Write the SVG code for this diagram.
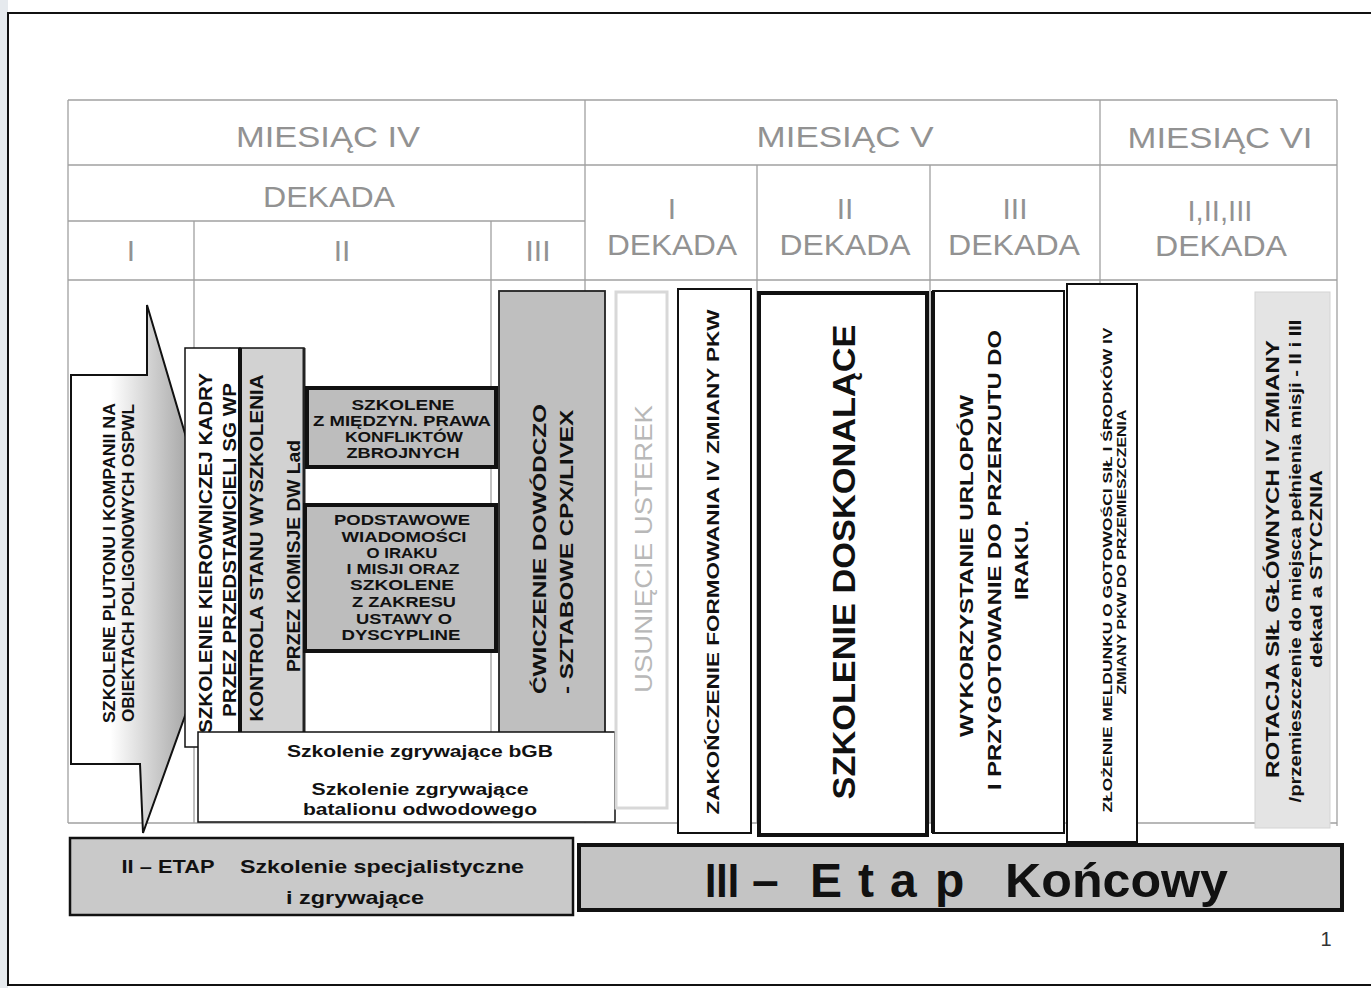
<svg xmlns="http://www.w3.org/2000/svg" width="1371" height="988" viewBox="0 0 1371 988">
<defs>
<linearGradient id="arrowGrad" x1="70" y1="0" x2="186" y2="0" gradientUnits="userSpaceOnUse">
<stop offset="0" stop-color="#ffffff"/>
<stop offset="0.35" stop-color="#ffffff"/>
<stop offset="1" stop-color="#a9a9a9"/>
</linearGradient>
</defs>
<style>
text{font-family:"Liberation Sans",Arial,sans-serif;}
.hdr{font-size:30px;fill:#929292;text-anchor:middle;}
.tl{stroke:#a0a0a0;stroke-width:1.3;fill:none;}
.v{font-weight:bold;fill:#111;text-anchor:middle;}
.h{font-weight:bold;fill:#111;text-anchor:middle;}
.wbox{fill:#ffffff;stroke:#111;}
</style>
<rect x="0" y="0" width="1371" height="988" fill="#ffffff"/>
<rect x="0" y="0" width="8" height="988" fill="#e6eaee"/>
<rect x="8" y="13" width="1380" height="972" fill="none" stroke="#111" stroke-width="2"/>

<g id="table">
<line class="tl" x1="68" y1="100" x2="1337" y2="100"/>
<line class="tl" x1="68" y1="165" x2="1337" y2="165"/>
<line class="tl" x1="68" y1="221" x2="585" y2="221"/>
<line class="tl" x1="68" y1="280" x2="1337" y2="280"/>
<line class="tl" x1="68" y1="823" x2="1337" y2="823"/>
<line class="tl" x1="68" y1="100" x2="68" y2="823"/>
<line class="tl" x1="585" y1="100" x2="585" y2="823"/>
<line class="tl" x1="1100" y1="100" x2="1100" y2="823"/>
<line class="tl" x1="1337" y1="100" x2="1337" y2="826"/>
<line class="tl" x1="194" y1="221" x2="194" y2="823"/>
<line class="tl" x1="491" y1="221" x2="491" y2="823"/>
<line class="tl" x1="757" y1="165" x2="757" y2="823"/>
<line class="tl" x1="930" y1="165" x2="930" y2="823"/>
<text class="hdr" x="328" y="147" textLength="184" lengthAdjust="spacingAndGlyphs">MIESIĄC IV</text>
<text class="hdr" x="845" y="147" textLength="177" lengthAdjust="spacingAndGlyphs">MIESIĄC V</text>
<text class="hdr" x="1220" y="148" textLength="185" lengthAdjust="spacingAndGlyphs">MIESIĄC VI</text>
<text class="hdr" x="329" y="207" textLength="132" lengthAdjust="spacingAndGlyphs">DEKADA</text>
<text class="hdr" x="131" y="261">I</text>
<text class="hdr" x="342" y="261">II</text>
<text class="hdr" x="538" y="261">III</text>
<text class="hdr" x="672" y="219">I</text>
<text class="hdr" x="672" y="255" textLength="130" lengthAdjust="spacingAndGlyphs">DEKADA</text>
<text class="hdr" x="845" y="219">II</text>
<text class="hdr" x="845" y="255" textLength="131" lengthAdjust="spacingAndGlyphs">DEKADA</text>
<text class="hdr" x="1015" y="219">III</text>
<text class="hdr" x="1014" y="255" textLength="132" lengthAdjust="spacingAndGlyphs">DEKADA</text>
<text class="hdr" x="1220" y="221" textLength="65" lengthAdjust="spacingAndGlyphs">I,II,III</text>
<text class="hdr" x="1221" y="256" textLength="132" lengthAdjust="spacingAndGlyphs">DEKADA</text>
</g>

<g id="connectors"></g>

<g id="arrow-szkolenie-plutonu">
<polygon points="71,375 147,375 147,305 186,437 186,713 143,833 140,764 71,764" fill="url(#arrowGrad)" stroke="#111" stroke-width="2"/>
<text class="v" font-size="16" transform="translate(115,563) rotate(-90)" textLength="320" lengthAdjust="spacingAndGlyphs">SZKOLENE PLUTONU I KOMPANII NA</text>
<text class="v" font-size="16" transform="translate(134,563) rotate(-90)" textLength="318" lengthAdjust="spacingAndGlyphs">OBIEKTACH POLIGONOWYCH OSPWL</text>
</g>

<g id="box-kierowniczej-kadry">
<rect class="wbox" x="185" y="348" width="55" height="399" stroke-width="1.5"/>
<text class="v" font-size="18" transform="translate(212,553) rotate(-90)" textLength="360" lengthAdjust="spacingAndGlyphs">SZKOLENIE KIEROWNICZEJ KADRY</text>
<text class="v" font-size="18" transform="translate(236,550) rotate(-90)" textLength="334" lengthAdjust="spacingAndGlyphs">PRZEZ PRZEDSTAWICIELI SG WP</text>
</g>

<g id="box-kontrola">
<rect x="240" y="348" width="64" height="390" fill="#d2d2d2" stroke="#111" stroke-width="1.5"/>
<line x1="240" y1="348" x2="240" y2="738" stroke="#111" stroke-width="4"/>
<line x1="304" y1="348" x2="304" y2="738" stroke="#222" stroke-width="3"/>
<text class="v" font-size="18" transform="translate(263,548) rotate(-90)" textLength="347" lengthAdjust="spacingAndGlyphs">KONTROLA STANU WYSZKOLENIA</text>
<text class="v" font-size="18" transform="translate(300,556) rotate(-90)" textLength="232" lengthAdjust="spacingAndGlyphs">PRZEZ KOMISJE DW Lad</text>
</g>

<g id="box-prawa-konfliktow">
<rect x="307" y="388" width="189" height="79" fill="#bdbdbd" stroke="#111" stroke-width="4"/>
<text class="h" font-size="15" x="403" y="410" textLength="103" lengthAdjust="spacingAndGlyphs">SZKOLENE</text>
<text class="h" font-size="15" x="402" y="426" textLength="178" lengthAdjust="spacingAndGlyphs">Z MIĘDZYN. PRAWA</text>
<text class="h" font-size="15" x="404" y="442" textLength="118" lengthAdjust="spacingAndGlyphs">KONFLIKTÓW</text>
<text class="h" font-size="15" x="403" y="458" textLength="113" lengthAdjust="spacingAndGlyphs" font-weight="normal">ZBROJNYCH</text>
</g>

<g id="box-wiadomosci-irak">
<rect x="305" y="505" width="191" height="146" fill="#bdbdbd" stroke="#111" stroke-width="4"/>
<text class="h" font-size="15" x="402" y="525" textLength="136" lengthAdjust="spacingAndGlyphs">PODSTAWOWE</text>
<text class="h" font-size="15" x="404" y="542" textLength="125" lengthAdjust="spacingAndGlyphs">WIADOMOŚCI</text>
<text class="h" font-size="15" x="402" y="558" textLength="71" lengthAdjust="spacingAndGlyphs">O IRAKU</text>
<text class="h" font-size="15" x="403" y="574" textLength="113" lengthAdjust="spacingAndGlyphs">I MISJI ORAZ</text>
<text class="h" font-size="15" x="402" y="590" textLength="104" lengthAdjust="spacingAndGlyphs" font-weight="normal">SZKOLENE</text>
<text class="h" font-size="15" x="404" y="607" textLength="104" lengthAdjust="spacingAndGlyphs" font-weight="normal">Z ZAKRESU</text>
<text class="h" font-size="15" x="404" y="624" textLength="96" lengthAdjust="spacingAndGlyphs" font-weight="normal">USTAWY O</text>
<text class="h" font-size="15" x="401" y="640" textLength="119" lengthAdjust="spacingAndGlyphs">DYSCYPLINE</text>
</g>

<g id="box-cwiczenie-cpx">
<rect x="499" y="291" width="106" height="444" fill="#bfbfbf" stroke="#222" stroke-width="1.8"/>
<text class="v" font-size="19" fill="#222" transform="translate(546,549) rotate(-90)" textLength="290" lengthAdjust="spacingAndGlyphs">ĆWICZENIE DOWÓDCZO</text>
<text class="v" font-size="19" fill="#222" transform="translate(573,552) rotate(-90)" textLength="284" lengthAdjust="spacingAndGlyphs">- SZTABOWE CPX/LIVEX</text>
</g>

<g id="box-szkolenie-zgrywajace">
<rect class="wbox" x="198" y="732" width="417" height="90" stroke-width="1.5"/>
<text class="h" font-size="17" x="420" y="757" textLength="266" lengthAdjust="spacingAndGlyphs">Szkolenie zgrywające bGB</text>
<text class="h" font-size="17" x="420" y="795" textLength="217" lengthAdjust="spacingAndGlyphs">Szkolenie zgrywające</text>
<text class="h" font-size="17" x="420" y="815" textLength="234" lengthAdjust="spacingAndGlyphs">batalionu odwodowego</text>
</g>

<g id="box-usuniecie-usterek">
<rect x="616" y="292" width="51" height="516" fill="#ffffff" stroke="#d8d8d8" stroke-width="3"/>
<text font-size="24" fill="#b8b8b8" text-anchor="middle" transform="translate(652,549) rotate(-90)" textLength="288" lengthAdjust="spacingAndGlyphs">USUNIĘCIE USTEREK</text>
</g>

<g id="box-zakonczenie-formowania">
<rect class="wbox" x="678" y="289" width="73" height="544" stroke-width="2"/>
<text class="v" font-size="17" transform="translate(719,562) rotate(-90)" textLength="505" lengthAdjust="spacingAndGlyphs">ZAKOŃCZENIE FORMOWANIA IV ZMIANY PKW</text>
</g>

<g id="box-szkolenie-doskonalace">
<rect class="wbox" x="759" y="293" width="168" height="542" stroke-width="4"/>
<text class="v" font-size="32" transform="translate(855,562) rotate(-90)" textLength="475" lengthAdjust="spacingAndGlyphs">SZKOLENIE DOSKONALĄCE</text>
</g>

<g id="box-wykorzystanie-urlopow">
<rect class="wbox" x="933" y="291" width="131" height="542" stroke-width="2"/>
<line x1="933" y1="291" x2="933" y2="833" stroke="#111" stroke-width="4"/>
<text class="v" font-size="18" transform="translate(973,566) rotate(-90)" textLength="342" lengthAdjust="spacingAndGlyphs">WYKORZYSTANIE URLOPÓW</text>
<text class="v" font-size="18" transform="translate(1001,560) rotate(-90)" textLength="460" lengthAdjust="spacingAndGlyphs">I PRZYGOTOWANIE DO PRZERZUTU DO</text>
<text class="v" font-size="18" transform="translate(1028,560) rotate(-90)" textLength="80" lengthAdjust="spacingAndGlyphs">IRAKU.</text>
</g>

<g id="box-zlozenie-meldunku">
<rect class="wbox" x="1067" y="284" width="70" height="558" stroke-width="2"/>
<text class="v" font-size="13" font-weight="normal" transform="translate(1112,570) rotate(-90)" textLength="485" lengthAdjust="spacingAndGlyphs">ZŁOŻENIE MELDUNKU O GOTOWOŚCI SIŁ I ŚRODKÓW IV</text>
<text class="v" font-size="13" font-weight="normal" transform="translate(1126,552) rotate(-90)" textLength="285" lengthAdjust="spacingAndGlyphs">ZMIANY PKW DO PRZEMIESZCZENIA</text>
</g>

<g id="box-rotacja">
<rect x="1255" y="292" width="75" height="536" fill="#e4e4e4" stroke="#d4d4d4" stroke-width="1"/>
<text class="v" font-size="19" transform="translate(1279,559) rotate(-90)" textLength="438" lengthAdjust="spacingAndGlyphs">ROTACJA SIŁ  GŁÓWNYCH IV ZMIANY</text>
<text class="v" font-size="16" font-weight="normal" transform="translate(1301,561) rotate(-90)" textLength="483" lengthAdjust="spacingAndGlyphs">/przemieszczenie do miejsca pełnienia misji - <tspan font-weight="bold">II i III</tspan></text>
<text class="v" font-size="16" font-weight="normal" transform="translate(1322,569) rotate(-90)" textLength="198" lengthAdjust="spacingAndGlyphs">dekad a STYCZNIA</text>
</g>

<g id="box-etap-II">
<rect x="70" y="838" width="503" height="77" fill="#c9c9c9" stroke="#111" stroke-width="2.5"/>
<text class="h" font-size="19" x="168" y="873" textLength="93" lengthAdjust="spacingAndGlyphs">II – ETAP</text>
<text class="h" font-size="19" x="382" y="873" textLength="284" lengthAdjust="spacingAndGlyphs">Szkolenie specjalistyczne</text>
<text class="h" font-size="19" x="355" y="904" textLength="138" lengthAdjust="spacingAndGlyphs">i zgrywające</text>
</g>

<g id="box-etap-III">
<rect x="579" y="845" width="763" height="65" fill="#c4c4c4" stroke="#111" stroke-width="4"/>
<text font-size="48" font-weight="bold" fill="#111" x="705" y="897" textLength="34" lengthAdjust="spacingAndGlyphs">III</text>
<text font-size="48" font-weight="bold" fill="#111" x="752" y="897">–</text>
<text font-size="48" font-weight="bold" fill="#111" y="897"><tspan x="810">E</tspan><tspan x="858">t</tspan><tspan x="890">a</tspan><tspan x="935">p</tspan></text>
<text font-size="48" font-weight="bold" fill="#111" x="1005" y="897" textLength="223" lengthAdjust="spacingAndGlyphs">Końcowy</text>
</g>

<text x="1326" y="946" font-size="20" fill="#333" text-anchor="middle">1</text>
</svg>
